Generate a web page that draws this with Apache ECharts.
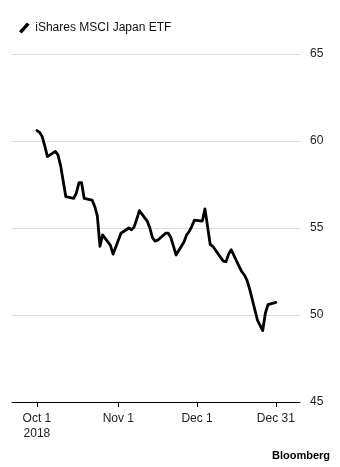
<!DOCTYPE html>
<html>
<head>
<meta charset="utf-8">
<style>
html,body{margin:0;padding:0;background:#fff;}
#chart{width:340px;height:467px;}
</style>
<script src="https://cdn.jsdelivr.net/npm/echarts@6/dist/echarts.min.js"></script>
</head>
<body>
<div id="chart"></div>
<script>
var seriesName = 'iShares MSCI Japan ETF';
var dates = ['2018-10-01','2018-10-02','2018-10-03','2018-10-04','2018-10-05',
'2018-10-08','2018-10-09','2018-10-10','2018-10-11','2018-10-12',
'2018-10-15','2018-10-16','2018-10-17','2018-10-18','2018-10-19',
'2018-10-22','2018-10-23','2018-10-24','2018-10-25','2018-10-26',
'2018-10-29','2018-10-30','2018-10-31','2018-11-01','2018-11-02',
'2018-11-05','2018-11-06','2018-11-07','2018-11-08','2018-11-09',
'2018-11-12','2018-11-13','2018-11-14','2018-11-15','2018-11-16',
'2018-11-19','2018-11-20','2018-11-21','2018-11-23',
'2018-11-26','2018-11-27','2018-11-28','2018-11-29','2018-11-30',
'2018-12-03','2018-12-04','2018-12-06','2018-12-07',
'2018-12-10','2018-12-11','2018-12-12','2018-12-13','2018-12-14',
'2018-12-17','2018-12-18','2018-12-19','2018-12-20','2018-12-21',
'2018-12-24','2018-12-26','2018-12-27','2018-12-28','2018-12-31'];
var prices = [60.6,60.5,60.25,59.7,59.1,
59.4,59.2,58.6,57.7,56.8,
56.7,57.0,57.6,57.6,56.7,
56.6,56.25,55.7,53.95,54.6,
54.0,53.5,53.9,54.3,54.7,
55.0,54.9,55.05,55.5,56.0,
55.4,55.0,54.45,54.25,54.3,
54.7,54.7,54.45,53.45,
54.2,54.6,54.8,55.1,55.45,
55.4,56.1,54.05,53.95,
53.3,53.1,53.06,53.5,53.75,
52.8,52.5,52.3,52.0,51.5,
49.7,49.1,50.1,50.6,50.72];
var xTickDates = ['2018-10-01','2018-11-01','2018-12-01','2018-12-31'];
var xTickLabels = ['Oct 1\n2018','Nov 1','Dec 1','Dec 31'];
var yTicks = [45,50,55,60,65];

function toTime(s){var p=s.split('-');return Date.UTC(+p[0],+p[1]-1,+p[2]);}
var DAY = 86400000;
var tickTimes = xTickDates.map(toTime);
var data = dates.map(function(d,i){return [toTime(d), prices[i]];});

var chart = echarts.init(document.getElementById('chart'), null, {renderer:'canvas'});
chart.setOption({
  animation:false,
  backgroundColor:'#fff',
  textStyle:{fontFamily:'Liberation Sans, Arial, sans-serif'},
  legend:{
    show:true,
    left:19, top:22,
    padding:0,
    itemWidth:12, itemHeight:11,
    itemGap:5,
    icon:'path://M0,10 L9,0 L12,2.5 L3,12.5 Z',
    textStyle:{fontSize:12,color:'#111',fontFamily:'Liberation Sans, Arial, sans-serif'},
    data:[{name:seriesName, itemStyle:{color:'#000'}}]
  },
  grid:{left:12,right:40,top:54,bottom:65,containLabel:false},
  xAxis:{
    type:'value',
    min:tickTimes[0]-9.5*DAY,
    max:tickTimes[3]+9.2*DAY,
    axisLine:{show:true,lineStyle:{color:'#000',width:1}},
    axisTick:{show:true,length:5,lineStyle:{color:'#000',width:1},customValues:tickTimes},
    axisLabel:{
      customValues:tickTimes,
      margin:9,
      color:'#222',fontSize:12,lineHeight:15,
      fontFamily:'Liberation Sans, Arial, sans-serif',
      formatter:function(v){
        for(var i=0;i<tickTimes.length;i++){ if(Math.abs(tickTimes[i]-v)<DAY/2) return xTickLabels[i]; }
        return '';
      }
    },
    splitLine:{show:false}
  },
  yAxis:{
    type:'value',
    position:'right',
    min:yTicks[0], max:yTicks[yTicks.length-1], interval:5,
    axisLine:{show:false},
    axisTick:{show:false},
    axisLabel:{margin:10,color:'#222',fontSize:12,fontFamily:'Liberation Sans, Arial, sans-serif'},
    splitLine:{show:true,lineStyle:{color:'#dcdcdc',width:1}}
  },
  series:[{
    name:seriesName,
    type:'line',
    data:data,
    showSymbol:false,
    symbol:'none',
    lineStyle:{color:'#000',width:2.8,join:'round',cap:'round'},
    itemStyle:{color:'#000'},
    z:5
  }],
  graphic:[{
    type:'text',
    right:10, top:450,
    style:{text:'Bloomberg',font:'bold 11px Liberation Sans, Arial, sans-serif',fill:'#000'}
  }]
});
</script>
</body>
</html>
